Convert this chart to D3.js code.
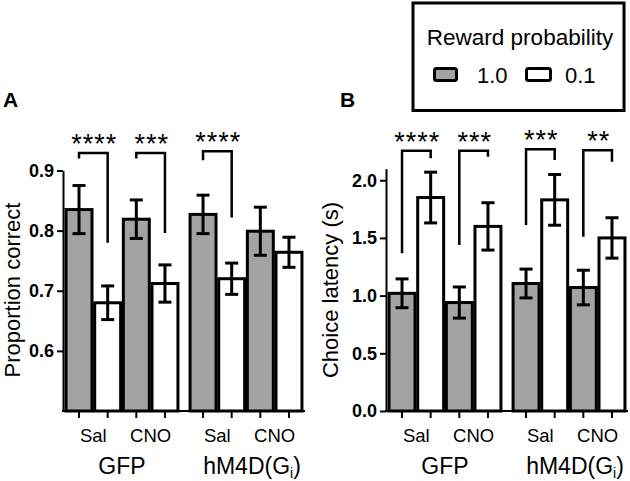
<!DOCTYPE html>
<html>
<head>
<meta charset="utf-8">
<script src="https://cdn.jsdelivr.net/npm/d3@7"></script>
<style>
  body { margin: 0; background: #fff; }
  svg { display: block; font-family: "Liberation Sans", Arial, sans-serif; }
  .axis path, .axis line { stroke: #000; stroke-width: 2; }
  .axis text { font-family: "Liberation Sans", Arial, sans-serif; font-size: 18px; font-weight: bold; fill: #000; }
</style>
</head>
<body>
<div class="chart"></div>
<script>
// groups / treatments / reward levels, bars ordered group > drug > reward
var groups = ["GFP", "hM4D"];
var drugs = ["Sal", "CNO"];
var rewards = ["1.0", "0.1"];

// panel A - proportion correct
var accuracyMean = [0.835, 0.680, 0.819, 0.712, 0.827, 0.720, 0.799, 0.764];
var accuracyErr  = [0.040, 0.028, 0.032, 0.031, 0.032, 0.026, 0.040, 0.025];
var accuracyTicks = [0.6, 0.7, 0.8, 0.9];
var accuracyStars = ["****", "***", "****"];
var accuracyBracketTop = [0.929, 0.929, 0.932];
var accuracyLeftEnd = [0.920, 0.920, 0.917];
var accuracyRightEnd = [0.780, 0.796, 0.822];

// panel B - choice latency
var latencyMean = [1.02, 1.85, 0.94, 1.60, 1.105, 1.83, 1.07, 1.50];
var latencyErr  = [0.125, 0.22, 0.135, 0.205, 0.125, 0.22, 0.15, 0.175];
var latencyTicks = [0.0, 0.5, 1.0, 1.5, 2.0];
var latencyStars = ["****", "***", "***", "**"];
var latencyBracketTop = [2.256, 2.256, 2.268, 2.26];
var latencyLeftEnd = [1.367, 1.438, 1.612, 1.51];
var latencyRightEnd = [2.19, 2.204, 2.175, 2.16];

var Choice = Choice || {};

Choice.BarPanels = (function() {
  var width = 630, height = 481;
  var gray = "#a3a3a3";
  var baseY = 411;

  var svg = d3.select(".chart").append("svg")
    .attr("width", width)
    .attr("height", height);

  function barData(means, errs) {
    var out = [];
    groups.forEach(function(g, gi) {
      drugs.forEach(function(dr, di) {
        rewards.forEach(function(r, ri) {
          var i = gi * 4 + di * 2 + ri;
          out.push({ group: g, drug: dr, reward: r, key: dr + r, mean: means[i], err: errs[i] });
        });
      });
    });
    return out;
  }

  function drawPanel(opt) {
    var x0 = opt.x0;
    var data = barData(opt.means, opt.errs);

    var outer = d3.scaleBand().domain(groups)
      .range([x0 + 1.7, x0 + 240.3]).paddingInner(0.076).paddingOuter(0);
    var inner = d3.scaleBand().domain(["Sal1.0", "Sal0.1", "CNO1.0", "CNO0.1"])
      .range([0, outer.bandwidth()]).padding(0);
    var y = d3.scaleLinear().domain(opt.domain).range([baseY, opt.top]);

    function cx(d) { return outer(d.group) + inner(d.key) + inner.bandwidth() / 2; }
    var bw = inner.bandwidth() - 2.7;

    var g = svg.append("g");

    g.selectAll("rect.bar")
      .data(data)
      .enter().append("rect")
        .attr("class", "bar")
        .attr("x", function(d) { return cx(d) - bw / 2; })
        .attr("y", function(d) { return y(d.mean); })
        .attr("width", bw)
        .attr("height", function(d) { return baseY - y(d.mean); })
        .attr("fill", function(d) { return d.reward === "1.0" ? gray : "#fff"; })
        .attr("stroke", "#000")
        .attr("stroke-width", 3);

    // error bars
    var eb = g.selectAll("g.err").data(data).enter().append("g")
      .attr("stroke", "#000").attr("stroke-width", 3).attr("fill", "none");
    eb.append("line")
      .attr("x1", cx).attr("x2", cx)
      .attr("y1", function(d) { return y(d.mean - d.err); })
      .attr("y2", function(d) { return y(d.mean + d.err); });
    eb.append("line")
      .attr("x1", function(d) { return cx(d) - 6.5; })
      .attr("x2", function(d) { return cx(d) + 6.5; })
      .attr("y1", function(d) { return y(d.mean + d.err); })
      .attr("y2", function(d) { return y(d.mean + d.err); });
    eb.append("line")
      .attr("x1", function(d) { return cx(d) - 6.5; })
      .attr("x2", function(d) { return cx(d) + 6.5; })
      .attr("y1", function(d) { return y(d.mean - d.err); })
      .attr("y2", function(d) { return y(d.mean - d.err); });

    // y axis
    g.append("g")
      .attr("class", "axis")
      .attr("transform", "translate(" + x0 + ",0)")
      .call(d3.axisLeft(y).tickValues(opt.ticks).tickFormat(d3.format(".1f")).tickSize(6).tickSizeOuter(0));

    // x axis line and ticks at bar centres
    g.append("line")
      .attr("x1", x0 - 1).attr("x2", x0 + 242)
      .attr("y1", baseY).attr("y2", baseY)
      .attr("stroke", "#000").attr("stroke-width", 2);
    g.selectAll("line.xtick").data(data).enter().append("line")
      .attr("class", "xtick")
      .attr("x1", cx).attr("x2", cx)
      .attr("y1", baseY).attr("y2", baseY + 7)
      .attr("stroke", "#000").attr("stroke-width", 2);

    // drug labels under each pair
    var pairs = [];
    groups.forEach(function(gr) { drugs.forEach(function(dr) { pairs.push({ group: gr, drug: dr }); }); });
    g.selectAll("text.drug").data(pairs).enter().append("text")
      .attr("class", "drug")
      .attr("x", function(d) { return outer(d.group) + inner(d.drug + "1.0") + inner.bandwidth(); })
      .attr("y", 442)
      .attr("text-anchor", "middle")
      .style("font-size", "18.5px")
      .text(function(d) { return d.drug; });

    // group labels
    g.append("text")
      .attr("x", outer("GFP") + outer.bandwidth() / 2)
      .attr("y", 474)
      .attr("text-anchor", "middle")
      .style("font-size", "23px")
      .text("GFP");
    var hm = g.append("text")
      .attr("x", outer("hM4D") + outer.bandwidth() / 2 + 6)
      .attr("y", 474)
      .attr("text-anchor", "middle")
      .style("font-size", "23px");
    hm.append("tspan").text("hM4D(G");
    hm.append("tspan").attr("dy", 4).style("font-size", "14px").text("i");
    hm.append("tspan").attr("dy", -4).text(")");

    // y title
    g.append("text")
      .attr("transform", "translate(" + opt.titleX + ",290) rotate(-90)")
      .attr("text-anchor", "middle")
      .style("font-size", "22px")
      .text(opt.title);

    // panel letter
    g.append("text")
      .attr("x", opt.letterX).attr("y", 107)
      .style("font-size", "21px").style("font-weight", "bold")
      .text(opt.letter);

    // significance brackets
    var br = opt.stars.map(function(s, i) {
      var gi = Math.floor(i / 2), dr = drugs[i % 2];
      var left = outer(groups[gi]) + inner(dr + "1.0") + inner.bandwidth() / 2;
      var right = outer(groups[gi]) + inner(dr + "0.1") + inner.bandwidth() / 2;
      return { stars: s, left: left, right: right, top: opt.brTop[i], l: opt.brLeft[i], r: opt.brRight[i] };
    });
    g.selectAll("path.bracket").data(br).enter().append("path")
      .attr("class", "bracket")
      .attr("fill", "none").attr("stroke", "#000").attr("stroke-width", 2.5)
      .attr("d", function(d) {
        return "M" + d.left + "," + y(d.l) + "V" + y(d.top) + "H" + d.right + "V" + y(d.r);
      });
    g.selectAll("text.stars").data(br).enter().append("text")
      .attr("class", "stars")
      .attr("x", function(d) { return (d.left + d.right) / 2 + 1; })
      .attr("y", function(d) { return y(d.top); })
      .attr("text-anchor", "middle")
      .style("font-size", "27px")
      .style("letter-spacing", "1px")
      .text(function(d) { return d.stars; });
  }

  function drawLegend() {
    var lg = svg.append("g");
    lg.append("rect")
      .attr("x", 413).attr("y", 3).attr("width", 211).attr("height", 107.5)
      .attr("fill", "#fff").attr("stroke", "#000").attr("stroke-width", 3);
    lg.append("text")
      .attr("x", 520).attr("y", 45)
      .attr("text-anchor", "middle")
      .style("font-size", "22.5px")
      .text("Reward probability");
    var items = lg.selectAll("g.item").data(rewards).enter().append("g")
      .attr("transform", function(d, i) { return "translate(" + (i === 0 ? 434.5 : 526.5) + ",68.5)"; });
    items.append("rect")
      .attr("width", function(d, i) { return i === 0 ? 22 : 24; }).attr("height", 12)
      .attr("rx", 2)
      .attr("fill", function(d) { return d === "1.0" ? gray : "#fff"; })
      .attr("stroke", "#000").attr("stroke-width", 3);
    items.append("text")
      .attr("x", function(d, i) { return i === 0 ? 42.5 : 38.5; })
      .attr("y", 14.5)
      .style("font-size", "22px")
      .text(function(d) { return d; });
  }

  return {
    draw: function() {
      drawPanel({ x0: 63, means: accuracyMean, errs: accuracyErr, domain: [0.5, 0.9], top: 170.5,
        ticks: accuracyTicks, title: "Proportion correct", titleX: 19.5, letter: "A", letterX: 3,
        stars: accuracyStars, brTop: accuracyBracketTop, brLeft: accuracyLeftEnd, brRight: accuracyRightEnd });
      drawPanel({ x0: 386, means: latencyMean, errs: latencyErr, domain: [0, 2.1], top: 168.7,
        ticks: latencyTicks, title: "Choice latency (s)", titleX: 337.5, letter: "B", letterX: 340,
        stars: latencyStars, brTop: latencyBracketTop, brLeft: latencyLeftEnd, brRight: latencyRightEnd });
      drawLegend();
    }
  };
})();

Choice.BarPanels.draw();
</script>
</body>
</html>
